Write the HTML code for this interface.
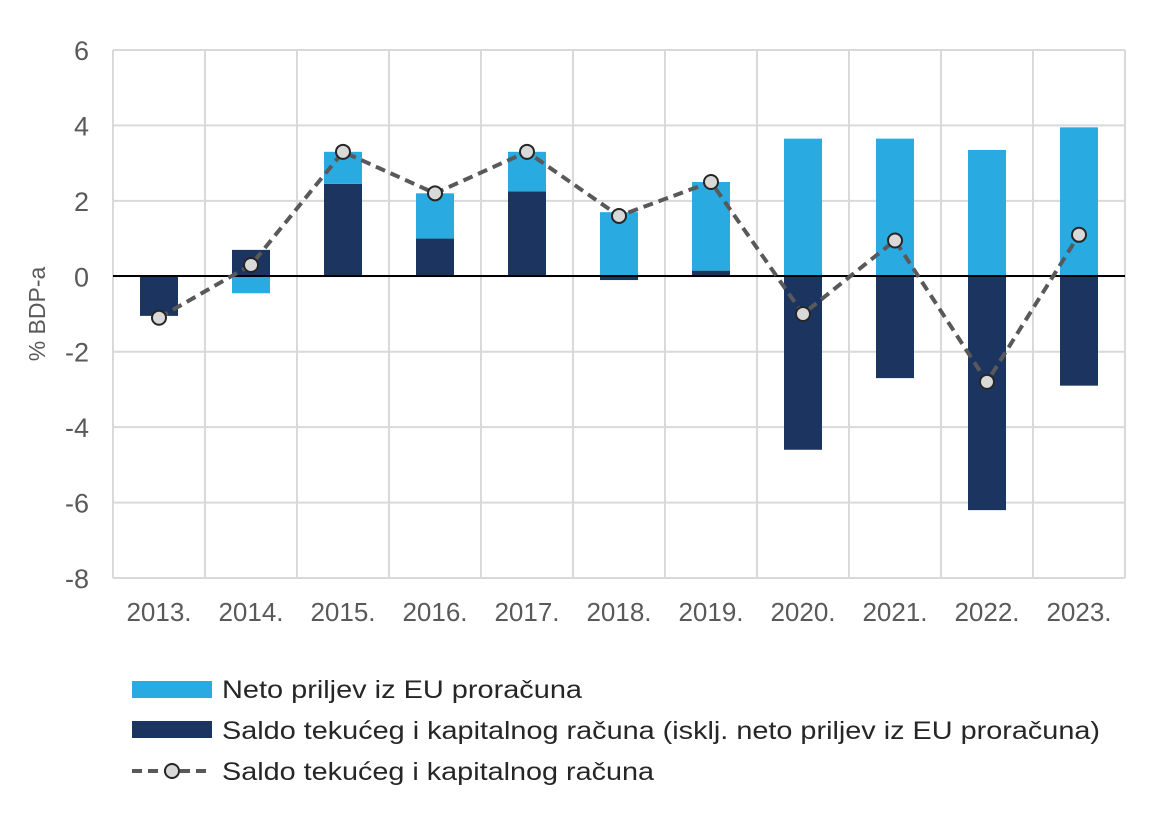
<!DOCTYPE html>
<html><head><meta charset="utf-8"><style>
body{margin:0;background:#fff;font-family:"Liberation Sans",Arial,sans-serif;}
</style></head><body>
<svg id="c" width="1169" height="808" xmlns="http://www.w3.org/2000/svg" font-family="Liberation Sans, Arial, sans-serif">
<g id="grid"></g>
<g id="bars"></g>
<line x1="113" x2="1125" y1="276" y2="276" stroke="#000" stroke-width="2"/>
<g id="line"></g>
<g id="axes"></g>
<text x="45" y="314" font-size="23" fill="#595959" text-anchor="middle" transform="rotate(-90 45 314)">% BDP-a</text>
<g font-size="25" fill="#262626">
<rect x="132" y="681" width="80" height="17" fill="#29abe2"/>
<text x="222" y="698" textLength="360" lengthAdjust="spacingAndGlyphs">Neto priljev iz EU proračuna</text>
<rect x="132" y="721" width="80" height="17" fill="#1b3560"/>
<text x="222" y="739" textLength="878" lengthAdjust="spacingAndGlyphs">Saldo tekućeg i kapitalnog računa (isklj. neto priljev iz EU proračuna)</text>
<line x1="132" x2="212" y1="771" y2="771" stroke="#595959" stroke-width="4" stroke-dasharray="10,6"/>
<circle cx="172" cy="771" r="7" fill="#d9d9d9" stroke="#262626" stroke-width="2"/>
<text x="222" y="780" textLength="432" lengthAdjust="spacingAndGlyphs">Saldo tekućeg i kapitalnog računa</text>
</g>
</svg>
<script>
const categories=["2013.","2014.","2015.","2016.","2017.","2018.","2019.","2020.","2021.","2022.","2023."];
const euInflow=[0,-0.45,0.85,1.2,1.05,1.7,2.35,3.65,3.65,3.35,3.95];
const balanceExcl=[-1.05,0.7,2.45,1.0,2.25,-0.1,0.15,-4.6,-2.7,-6.2,-2.9];
const balanceTotal=[-1.1,0.3,3.3,2.2,3.3,1.6,2.5,-1.0,0.95,-2.8,1.1];
const yTicks=[6,4,2,0,-2,-4,-6,-8];
const NS="http://www.w3.org/2000/svg";
const x0=113,x1=1125,yTop=50,yBot=578,ymax=6,ymin=-8;
const bw=(x1-x0)/categories.length;
function y(v){return yTop+(ymax-v)/(ymax-ymin)*(yBot-yTop);}
function xc(i){return x0+bw*(i+0.5);}
function mk(t,a,p){const e=document.createElementNS(NS,t);for(const k in a)e.setAttribute(k,a[k]);p.appendChild(e);return e;}
const grid=document.getElementById('grid'),axes=document.getElementById('axes'),bars=document.getElementById('bars'),line=document.getElementById('line');
yTicks.forEach(t=>{
 const l=mk('line',{x1:x0,x2:x1,y1:y(t),y2:y(t),stroke:'#d9d9d9','stroke-width':2},grid);
 
 
 const tx=mk('text',{x:89,y:y(t)+10,'font-size':27,fill:'#595959','text-anchor':'end'},axes);
 tx.textContent=t;
 
 
});
for(let i=0;i<=categories.length;i++){
 const l=mk('line',{x1:x0+bw*i,x2:x0+bw*i,y1:yTop,y2:yBot,stroke:'#d9d9d9','stroke-width':2},grid);
 
 
}
const w=38;
categories.forEach((c,i)=>{
 let pos=0,neg=0;
 [[balanceExcl[i],'#1b3560','bar-excl'],[euInflow[i],'#29abe2','bar-eu']].forEach(([v,col,nm])=>{
  let a,b;
  if(v>=0){a=pos;b=pos+v;pos=b;}else{a=neg;b=neg+v;neg=b;}
  const r=mk('rect',{x:xc(i)-w/2,y:Math.min(y(a),y(b)),width:w,height:Math.abs(y(a)-y(b)),fill:col},bars);
  
  
 });
 const tx=mk('text',{x:xc(i),y:621,'font-size':26,fill:'#595959','text-anchor':'middle'},axes);
 tx.textContent=c;
 
 
});
const p=mk('polyline',{points:balanceTotal.map((v,i)=>xc(i)+','+y(v)).join(' '),fill:'none',stroke:'#595959','stroke-width':4,'stroke-dasharray':'10,6'},line);


balanceTotal.forEach((v,i)=>{
 const c=mk('circle',{cx:xc(i),cy:y(v),r:7,fill:'#d9d9d9',stroke:'#262626','stroke-width':2},line);
 
 
});
</script>
</body></html>
